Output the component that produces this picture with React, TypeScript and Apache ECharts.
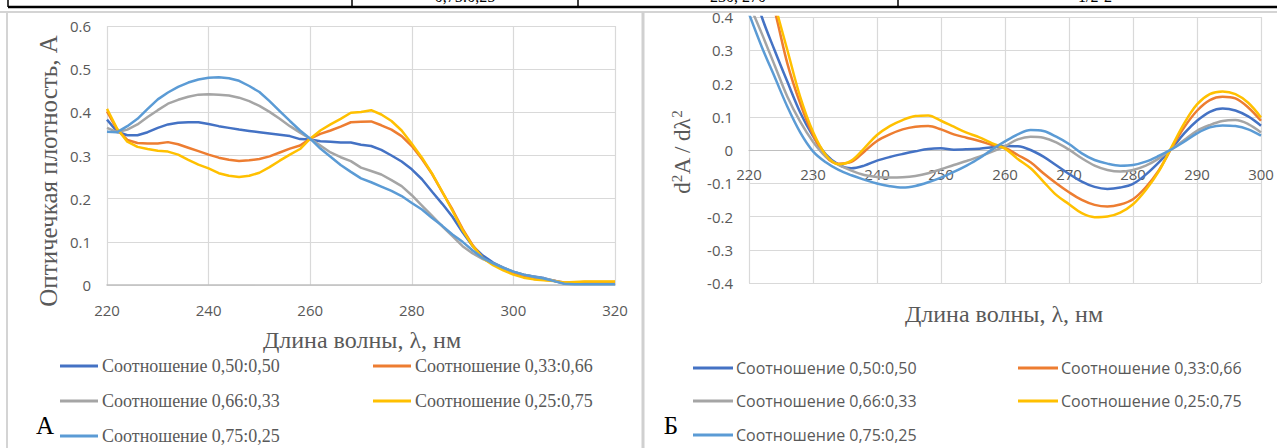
import React, { useEffect, useRef } from "react";
import * as echarts from "echarts";

// ---------- DATA ----------
const seriesNames = [
  "Соотношение 0,50:0,50",
  "Соотношение 0,33:0,66",
  "Соотношение 0,66:0,33",
  "Соотношение 0,25:0,75",
  "Соотношение 0,75:0,25",
];
const seriesColors = ["#4472C4", "#ED7D31", "#A5A5A5", "#FFC000", "#5B9BD5"];

// Chart A: absorbance spectra
const wavelengthA = [
  220, 222, 224, 226, 228, 230, 232, 234, 236, 238, 240, 242, 244, 246, 248, 250, 252,
  254, 256, 258, 260, 262, 264, 266, 268, 270, 272, 274, 276, 278, 280, 282, 284, 286,
  288, 290, 292, 294, 296, 298, 300, 302, 304, 306, 308, 310, 312, 314, 316, 318, 320,
];
const absA_050_050 = [
  0.383, 0.355, 0.347, 0.347, 0.354, 0.364, 0.372, 0.376, 0.377, 0.377, 0.373, 0.368, 0.364,
  0.36, 0.357, 0.354, 0.351, 0.348, 0.345, 0.338, 0.337, 0.333, 0.332, 0.33, 0.33, 0.325,
  0.322, 0.313, 0.3, 0.286, 0.268, 0.245, 0.216, 0.188, 0.158, 0.122, 0.09, 0.068, 0.052,
  0.04, 0.03, 0.024, 0.02, 0.016, 0.01, 0.004, 0.003, 0.003, 0.003, 0.003, 0.003,
];
const absA_033_066 = [
  0.402, 0.36, 0.336, 0.329, 0.328, 0.328, 0.331, 0.326, 0.318, 0.31, 0.302, 0.295, 0.29,
  0.287, 0.289, 0.292, 0.298, 0.307, 0.316, 0.323, 0.339, 0.35, 0.358, 0.367, 0.377, 0.378,
  0.379, 0.37, 0.36, 0.345, 0.322, 0.292, 0.257, 0.215, 0.175, 0.13, 0.092, 0.062, 0.048,
  0.038, 0.028, 0.021, 0.016, 0.012, 0.01, 0.006, 0.006, 0.007, 0.007, 0.007, 0.007,
];
const absA_066_033 = [
  0.364, 0.354, 0.36, 0.372, 0.389, 0.405, 0.42, 0.429, 0.436, 0.441, 0.442, 0.441, 0.439,
  0.434, 0.426, 0.415, 0.401, 0.385, 0.368, 0.353, 0.339, 0.323, 0.307, 0.296, 0.287, 0.272,
  0.264, 0.256, 0.243, 0.229, 0.208, 0.184, 0.16, 0.136, 0.113, 0.09, 0.073, 0.06, 0.05,
  0.04, 0.031, 0.024, 0.019, 0.015, 0.01, 0.004, 0.003, 0.003, 0.003, 0.003, 0.003,
];
const absA_025_075 = [
  0.408, 0.362, 0.332, 0.32, 0.315, 0.311, 0.309, 0.302, 0.29, 0.279, 0.27, 0.259, 0.253,
  0.25, 0.253, 0.26, 0.273, 0.288, 0.302, 0.315, 0.339, 0.358, 0.372, 0.385, 0.399, 0.401,
  0.405, 0.395, 0.38, 0.358, 0.327, 0.295, 0.258, 0.216, 0.172, 0.127, 0.09, 0.062, 0.046,
  0.034, 0.024, 0.017, 0.013, 0.011, 0.009, 0.006, 0.007, 0.008, 0.008, 0.008, 0.008,
];
const absA_075_025 = [
  0.355, 0.354, 0.368, 0.385, 0.408, 0.43, 0.446, 0.459, 0.469, 0.476, 0.48, 0.481, 0.479,
  0.473, 0.461, 0.447, 0.426, 0.403, 0.38, 0.358, 0.339, 0.316, 0.297, 0.278, 0.262, 0.247,
  0.238, 0.228, 0.218, 0.206, 0.19, 0.175, 0.155, 0.137, 0.117, 0.1, 0.08, 0.062, 0.05,
  0.04, 0.031, 0.024, 0.019, 0.015, 0.009, 0.003, 0.002, 0.002, 0.002, 0.002, 0.002,
];

// Chart Б: second derivative
const wavelengthB = [
  220, 222, 224, 226, 228, 230, 232, 234, 236, 238, 240, 242, 244, 246, 248, 250, 252,
  254, 256, 258, 260, 262, 264, 266, 268, 270, 272, 274, 276, 278, 280, 282, 284, 286,
  288, 290, 292, 294, 296, 298, 300,
];
const d2B_050_050 = [
  0.53, 0.4, 0.3, 0.205, 0.113, 0.042, -0.013, -0.044, -0.055, -0.047, -0.032, -0.021,
  -0.012, -0.004, 0.003, 0.005, 0.001, 0.002, 0.004, 0.008, 0.012, 0.011, 0.0, -0.02,
  -0.046, -0.072, -0.095, -0.111, -0.117, -0.113, -0.102, -0.074, -0.038, 0.003, 0.05,
  0.088, 0.115, 0.125, 0.119, 0.101, 0.073,
];
const d2B_033_066 = [
  0.68, 0.55, 0.42, 0.26, 0.14, 0.045, -0.02, -0.041, -0.036, -0.005, 0.027, 0.047, 0.062,
  0.07, 0.072, 0.062, 0.047, 0.037, 0.027, 0.015, 0.006, -0.015, -0.037, -0.07, -0.1,
  -0.127, -0.15, -0.165, -0.17, -0.164, -0.148, -0.112, -0.062, 0.005, 0.068, 0.118, 0.15,
  0.16, 0.155, 0.128, 0.088,
];
const d2B_066_033 = [
  0.44, 0.35, 0.255, 0.16, 0.085, 0.025, -0.02, -0.045, -0.062, -0.075, -0.081, -0.083,
  -0.082, -0.078, -0.07, -0.058, -0.045, -0.033, -0.02, -0.005, 0.012, 0.032, 0.04, 0.037,
  0.023, 0.001, -0.025, -0.047, -0.06, -0.065, -0.06, -0.047, -0.026, 0.002, 0.03, 0.058,
  0.075, 0.087, 0.09, 0.078, 0.053,
];
const d2B_025_075 = [
  0.72, 0.58, 0.44, 0.3, 0.16, 0.055, -0.015, -0.043, -0.032, 0.005, 0.045, 0.072, 0.09,
  0.102, 0.104, 0.088, 0.07, 0.052, 0.038, 0.02, 0.004, -0.027, -0.055, -0.095, -0.135,
  -0.163, -0.19, -0.202, -0.2, -0.188, -0.163, -0.12, -0.065, 0.008, 0.08, 0.137, 0.168,
  0.176, 0.168, 0.142, 0.098,
];
const d2B_075_025 = [
  0.41, 0.31, 0.22, 0.13, 0.053, -0.004, -0.037, -0.06, -0.076, -0.089, -0.101, -0.109,
  -0.113, -0.108, -0.097, -0.083, -0.066, -0.047, -0.025, 0.002, 0.026, 0.047, 0.06, 0.057,
  0.04, 0.018, -0.01, -0.03, -0.041, -0.047, -0.045, -0.035, -0.018, 0.002, 0.025, 0.05,
  0.068, 0.074, 0.072, 0.062, 0.043,
];

const seriesA = [absA_050_050, absA_033_066, absA_066_033, absA_025_075, absA_075_025];
const seriesB = [d2B_050_050, d2B_033_066, d2B_066_033, d2B_025_075, d2B_075_025];

// Top table strip texts (partially cut off)
const topTexts = ["0,75:0,25", "230, 270", "1/2-2"];

// ---------- STYLE ----------
const SERIF = "'Liberation Serif', 'DejaVu Serif', serif";
const SANS = "'Open Sans', 'Noto Sans', sans-serif";
const LABEL = "#595959";
const GRID = "#d9d9d9";

export default function App() {
  const ref = useRef<HTMLDivElement>(null);

  useEffect(() => {
    if (!ref.current) return;
    const chart = echarts.init(ref.current, null, { renderer: "svg" });

    const pairs = (xs: number[], ys: number[]) => xs.map((x, i) => [x, ys[i]]);

    const series: any[] = [];
    seriesNames.forEach((name, i) => {
      series.push({
        name,
        type: "line",
        xAxisIndex: 0,
        yAxisIndex: 0,
        data: pairs(wavelengthA, seriesA[i]),
        showSymbol: false,
        symbol: "none",
        lineStyle: { width: 2.5, color: seriesColors[i] },
        itemStyle: { color: seriesColors[i] },
        smooth: false,
        clip: true,
      });
    });
    seriesNames.forEach((name, i) => {
      series.push({
        name,
        type: "line",
        xAxisIndex: 1,
        yAxisIndex: 1,
        data: pairs(wavelengthB, seriesB[i]),
        showSymbol: false,
        symbol: "none",
        lineStyle: { width: 2.5, color: seriesColors[i] },
        itemStyle: { color: seriesColors[i] },
        smooth: 0.35,
        clip: true,
      });
    });

    const legendPosA = [
      [60, 366], [373, 366], [60, 401], [373, 401], [60, 436],
    ];
    const legendPosB = [
      [693, 369], [1018, 369], [693, 402], [1018, 402], [693, 436],
    ];
    const legends: any[] = [];
    seriesNames.forEach((name, i) => {
      legends.push({
        data: [name],
        left: legendPosA[i][0],
        top: legendPosA[i][1] - 9,
        padding: 0,
        icon: "rect",
        itemWidth: 38,
        itemHeight: 3,
        selectedMode: false,
        textStyle: { fontFamily: SERIF, fontSize: 18, color: LABEL, padding: [0, 0, 0, -1] },
      });
    });
    seriesNames.forEach((name, i) => {
      legends.push({
        data: [name],
        left: legendPosB[i][0],
        top: legendPosB[i][1] - 9,
        padding: 0,
        icon: "rect",
        itemWidth: 40,
        itemHeight: 3,
        selectedMode: false,
        textStyle: { fontFamily: SANS, fontSize: 16, color: LABEL, padding: [0, 0, 0, -2] },
      });
    });

    const graphic: any[] = [
      // top table strip
      { type: "line", shape: { x1: 8, y1: 7, x2: 1277, y2: 7 }, style: { stroke: "#000", lineWidth: 2.5 } },
      { type: "line", shape: { x1: 8, y1: 0, x2: 8, y2: 7 }, style: { stroke: "#000", lineWidth: 1.5 } },
      { type: "line", shape: { x1: 352, y1: 0, x2: 352, y2: 7 }, style: { stroke: "#000", lineWidth: 1.5 } },
      { type: "line", shape: { x1: 578, y1: 0, x2: 578, y2: 7 }, style: { stroke: "#000", lineWidth: 1.5 } },
      { type: "line", shape: { x1: 898, y1: 0, x2: 898, y2: 7 }, style: { stroke: "#000", lineWidth: 1.5 } },
      { type: "text", x: 465, y: 4, style: { text: topTexts[0], fontFamily: SERIF, fontSize: 16, fill: "#000", align: "center", verticalAlign: "bottom" } },
      { type: "text", x: 738, y: 4, style: { text: topTexts[1], fontFamily: SERIF, fontSize: 16, fill: "#000", align: "center", verticalAlign: "bottom" } },
      { type: "text", x: 1095, y: 4, style: { text: topTexts[2], fontFamily: SERIF, fontSize: 16, fill: "#000", align: "center", verticalAlign: "bottom" } },
      // panel frames
      { type: "line", shape: { x1: 0, y1: 12, x2: 1277, y2: 12 }, style: { stroke: "#d4d4d4", lineWidth: 2 } },
      { type: "line", shape: { x1: 7, y1: 12, x2: 7, y2: 448 }, style: { stroke: "#d4d4d4", lineWidth: 2 } },
      { type: "line", shape: { x1: 643, y1: 12, x2: 643, y2: 448 }, style: { stroke: "#d0d0d0", lineWidth: 3 } },
      // axis titles chart A
      {
        type: "text", x: 48, y: 171, rotation: Math.PI / 2,
        style: { text: "Оптичечкая плотность, A", fontFamily: SERIF, fontSize: 25, fill: LABEL, align: "center", verticalAlign: "middle" },
      },
      {
        type: "text", x: 362, y: 340,
        style: { text: "Длина волны, λ, нм", fontFamily: SERIF, fontSize: 24, fill: LABEL, align: "center", verticalAlign: "middle" },
      },
      // axis titles chart Б
      {
        type: "text", x: 682, y: 152, rotation: Math.PI / 2,
        style: {
          text: "d{sup|2}A / dλ{sup|2}",
          fontFamily: SERIF, fontSize: 23, fill: LABEL, align: "center", verticalAlign: "middle",
          rich: {
            base: { fontFamily: SERIF, fontSize: 23, fill: LABEL },
            sup: { fontFamily: SERIF, fontSize: 15, fill: LABEL, verticalAlign: "top", padding: [0, 0, 10, 0] },
          },
        },
      },
      {
        type: "text", x: 1004, y: 314,
        style: { text: "Длина волны, λ, нм", fontFamily: SERIF, fontSize: 24, fill: LABEL, align: "center", verticalAlign: "middle" },
      },
      // panel letters
      { type: "text", x: 45, y: 425, style: { text: "А", fontFamily: SERIF, fontSize: 25, fill: "#000", align: "center", verticalAlign: "middle" } },
      { type: "text", x: 671, y: 425, style: { text: "Б", fontFamily: SERIF, fontSize: 25, fill: "#000", align: "center", verticalAlign: "middle" } },
    ];

    chart.setOption({
      animation: false,
      backgroundColor: "#ffffff",
      grid: [
        { left: 107, top: 26, width: 508, height: 259, containLabel: false },
        { left: 749, top: 17, width: 512, height: 266, containLabel: false },
      ],
      xAxis: [
        {
          type: "value", gridIndex: 0, min: 220, max: 320, interval: 20,
          axisLine: { show: true, lineStyle: { color: "#bfbfbf", width: 1.5 } },
          axisTick: { show: false },
          axisLabel: { color: LABEL, fontFamily: SANS, fontSize: 15, margin: 17 },
          splitLine: { show: true, lineStyle: { color: GRID, width: 1.2 } },
        },
        {
          type: "value", gridIndex: 1, min: 220, max: 300, interval: 10,
          position: "bottom",
          offset: -133,
          axisLine: { show: true, onZero: false, lineStyle: { color: "#bfbfbf", width: 1.2 } },
          axisTick: { show: false },
          axisLabel: { color: LABEL, fontFamily: SANS, fontSize: 15, margin: 16 },
          splitLine: { show: true, lineStyle: { color: GRID, width: 1.2 } },
        },
      ],
      yAxis: [
        {
          type: "value", gridIndex: 0, min: 0, max: 0.6, interval: 0.1,
          axisLine: { show: false },
          axisTick: { show: false },
          axisLabel: { color: LABEL, fontFamily: SANS, fontSize: 15, margin: 16 },
          splitLine: { show: true, lineStyle: { color: GRID, width: 1.2 } },
        },
        {
          type: "value", gridIndex: 1, min: -0.4, max: 0.4, interval: 0.1,
          axisLine: { show: false },
          axisTick: { show: false },
          axisLabel: { color: LABEL, fontFamily: SANS, fontSize: 15, margin: 16 },
          splitLine: { show: true, lineStyle: { color: GRID, width: 1.2 } },
        },
      ],
      legend: legends,
      series,
      graphic,
    });

    return () => chart.dispose();
  }, []);

  return (
    <div
      ref={ref}
      style={{ position: "absolute", left: 0, top: 0, width: 1277, height: 448, background: "#fff" }}
    />
  );
}
